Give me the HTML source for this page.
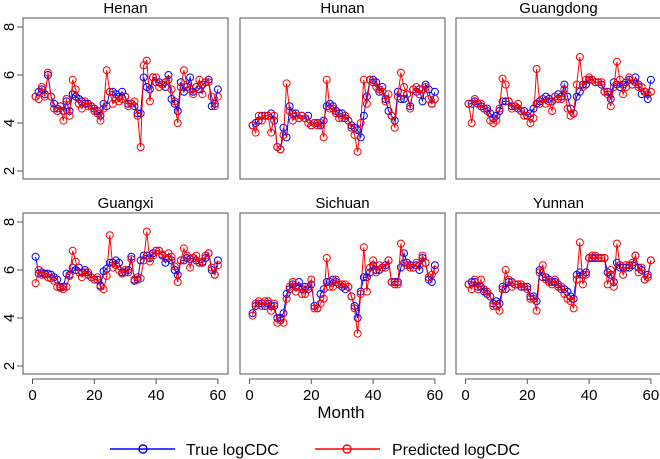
<!DOCTYPE html>
<html><head><meta charset="utf-8"><style>
body{margin:0;background:#fff;}
svg{display:block;font-family:"Liberation Sans",Arial,sans-serif;}
</style></head><body>
<svg id="chart" width="660" height="459" viewBox="0 0 660 459">
<g id="panels"></g>
<text x="341" y="418" font-size="17" text-anchor="middle">Month</text>
<g>
<g>
<line x1="110" y1="449" x2="175" y2="449" stroke="#0000ff" stroke-width="1.6"/>
<circle cx="143" cy="449" r="4" fill="none" stroke="#0000ff" stroke-width="1.4"/>
<text x="186" y="455" font-size="16">True logCDC</text></g>
<g>
<line x1="315" y1="449" x2="380" y2="449" stroke="#ff0000" stroke-width="1.6"/>
<circle cx="347" cy="449" r="4" fill="none" stroke="#ff0000" stroke-width="1.4"/>
<text x="392" y="455" font-size="16">Predicted logCDC</text></g>
</g>
</svg>
<script>
const provinces=["Henan","Hunan","Guangdong","Guangxi","Sichuan","Yunnan"];
const xTicks=[0,20,40,60];
const yTicks=[2,4,6,8];
const trueHenan=[5.1,5.3,5.4,5.2,6.0,5.1,4.8,4.6,4.7,4.5,4.9,4.5,5.2,5.1,5.0,4.9,4.8,4.8,4.7,4.6,4.5,4.3,4.8,4.7,5.3,5.3,5.2,5.1,5.3,5.1,4.8,4.8,4.7,4.4,4.4,5.9,5.5,5.4,5.9,5.7,5.7,5.6,5.5,6.0,5.0,4.8,4.5,5.7,5.3,5.5,5.9,5.3,5.5,5.4,5.6,5.7,5.8,4.7,4.8,5.4];
const predHenan=[5.1,5.0,5.5,5.1,6.1,5.1,4.6,4.5,4.7,4.1,5.0,4.3,5.8,5.4,4.8,4.6,4.9,4.7,4.7,4.5,4.4,4.1,4.6,6.2,5.3,4.8,5.0,4.9,5.0,5.1,4.7,4.8,4.9,4.3,3.0,6.4,6.6,4.9,5.9,5.9,5.5,5.6,5.7,5.8,5.4,4.9,4.0,5.5,6.2,5.6,5.4,5.2,5.5,5.8,5.2,5.7,5.7,5.1,4.7,5.1];
const trueHunan=[3.9,4.0,4.1,4.3,4.3,4.3,4.4,4.1,3.0,2.9,3.8,3.4,4.7,4.4,4.4,4.2,4.3,4.2,4.3,3.9,4.0,4.0,3.9,4.1,4.7,4.8,4.7,4.5,4.4,4.4,4.2,4.1,3.9,3.8,3.7,3.4,4.3,5.1,5.8,5.8,5.7,5.3,5.5,5.0,4.5,4.3,4.1,5.3,5.0,5.0,5.2,4.7,5.4,5.3,5.4,4.9,5.6,5.4,4.8,5.3];
const predHunan=[3.9,3.6,4.3,4.1,4.3,4.3,3.6,4.3,3.0,2.9,3.5,5.65,4.5,4.1,4.3,4.2,4.3,4.2,4.0,3.9,4.0,3.9,4.0,3.4,5.8,4.6,4.6,4.4,4.2,4.2,4.3,4.1,3.8,3.5,2.8,4.0,5.8,4.8,5.8,5.7,5.5,5.4,5.3,4.9,5.2,4.3,3.8,5.1,6.1,5.5,5.2,4.6,5.4,5.5,5.2,5.4,5.5,5.0,4.8,5.0];
const trueGuangdong=[4.8,4.8,4.9,4.8,4.7,4.6,4.6,4.4,4.2,4.3,4.5,4.9,4.9,4.9,4.7,4.7,4.6,4.5,4.5,4.3,4.4,4.6,4.8,4.9,5.0,5.1,5.0,4.9,5.1,5.2,5.1,5.6,5.1,4.6,4.4,5.1,5.3,5.6,5.6,5.8,5.8,5.7,5.7,5.6,5.3,5.3,5.0,5.7,5.6,5.5,5.6,5.7,5.8,5.6,5.9,5.6,5.2,5.3,5.0,5.8];
const predGuangdong=[4.8,4.0,5.0,4.8,4.8,4.6,4.5,4.1,4.0,4.1,4.6,5.85,5.6,4.9,4.6,4.7,4.8,4.5,4.3,4.3,4.0,4.2,6.25,4.8,5.0,4.8,4.9,4.5,5.1,5.0,5.0,5.4,4.6,4.3,4.4,5.6,6.75,5.5,5.8,5.9,5.8,5.7,5.7,5.7,5.3,5.2,4.7,5.5,6.55,5.8,5.2,5.5,5.9,5.6,5.7,5.5,5.5,5.3,5.2,5.3];
const trueGuangxi=[6.55,5.85,5.9,5.85,5.85,5.8,5.7,5.6,5.3,5.3,5.85,5.8,6.1,6.0,6.1,5.9,6.0,5.8,5.7,5.6,5.6,5.35,5.95,6.05,6.3,6.3,6.4,6.3,5.9,5.9,6.0,6.55,5.55,5.6,6.4,6.6,6.6,6.5,6.7,6.8,6.8,6.6,6.3,6.5,6.4,6.0,5.8,6.4,6.4,6.5,6.45,6.5,6.4,6.3,6.3,6.5,6.7,6.0,5.8,6.4];
const predGuangxi=[5.45,6.0,5.8,5.8,5.7,5.65,5.55,5.3,5.25,5.2,5.3,5.75,6.8,6.35,5.9,5.7,5.9,5.9,5.7,5.6,5.7,5.3,5.2,5.75,7.45,6.1,6.2,6.0,5.85,6.0,5.9,6.45,5.6,5.7,5.65,6.4,7.6,6.35,6.6,6.8,6.8,6.65,6.5,6.7,6.55,6.15,5.5,6.4,6.9,6.6,6.1,6.5,6.6,6.3,6.35,6.6,6.7,6.1,5.8,6.2];
const trueSichuan=[4.2,4.5,4.6,4.6,4.5,4.6,4.5,4.5,4.0,4.0,4.2,5.0,5.2,5.4,5.3,5.5,5.2,5.3,5.2,5.4,4.5,4.4,5.0,5.2,5.5,5.5,5.6,5.5,5.4,5.3,5.2,5.3,4.9,4.5,4.0,5.1,5.7,5.7,5.9,6.2,6.0,6.0,6.1,6.2,6.4,5.5,5.5,5.5,6.1,6.7,6.3,6.2,6.1,6.2,6.0,6.5,6.3,5.6,5.5,6.2];
const predSichuan=[4.1,4.6,4.7,4.5,4.7,4.7,4.3,4.6,3.8,3.9,3.8,4.8,5.3,5.5,5.1,5.3,5.0,5.0,5.3,5.6,4.4,4.4,4.6,4.8,6.5,5.3,5.3,5.6,5.4,5.4,5.4,5.3,4.9,4.4,3.35,5.0,6.95,5.1,6.1,6.4,5.9,6.2,6.1,6.1,6.4,5.5,5.4,5.4,7.1,6.3,6.2,6.1,6.1,6.3,6.2,6.6,6.3,5.7,5.8,6.0];
const trueYunnan=[5.4,5.5,5.5,5.3,5.3,5.1,5.0,4.9,4.6,4.7,4.6,5.3,5.2,5.5,5.5,5.4,5.4,5.3,5.3,5.3,4.9,4.9,4.7,6.0,5.7,5.7,5.6,5.5,5.5,5.4,5.2,5.2,5.1,4.9,4.8,5.8,5.9,5.8,5.9,6.5,6.5,6.5,6.5,6.5,6.5,5.9,5.8,5.5,6.3,6.1,6.1,6.1,6.1,6.2,6.6,6.1,6.0,5.6,5.8,6.4];
const predYunnan=[5.4,5.2,5.6,5.2,5.6,5.2,5.1,4.9,4.5,4.5,4.3,5.2,6.0,5.6,5.3,5.4,5.4,5.4,5.3,5.2,4.8,4.8,4.3,5.9,6.2,5.6,5.5,5.4,5.6,5.3,5.3,5.0,4.8,4.7,4.4,5.6,7.15,5.4,5.8,6.5,6.6,6.6,6.5,6.5,6.5,5.4,6.0,5.3,7.1,6.2,5.8,6.2,6.2,6.3,6.6,5.9,6.1,5.6,5.7,6.4];
const trueSeries=[trueHenan,trueHunan,trueGuangdong,trueGuangxi,trueSichuan,trueYunnan];
const predSeries=[predHenan,predHunan,predGuangdong,predGuangxi,predSichuan,predYunnan];

const NS="http://www.w3.org/2000/svg";
const root=document.getElementById("panels");
function mk(tag,attrs,parent){const e=document.createElementNS(NS,tag);for(const k in attrs)e.setAttribute(k,attrs[k]);parent.appendChild(e);return e;}
const lefts=[23,240,456],tops=[18,213],W=205,H=161;
provinces.forEach((name,i)=>{
  const col=i%3,row=Math.floor(i/3);
  const L=lefts[col],T=tops[row];
  const xs=m=>L+9.5+m*3.09;
  const ys=v=>T+153-(v-2)*24;
  const g=mk("g",{},root);
  
  
  const t=mk("text",{x:L+W/2,y:T-5,"font-size":"15","text-anchor":"middle"},g);
  t.textContent=name;
  
  
  const box=mk("rect",{x:L,y:T,width:W,height:H,fill:"none",stroke:"#555","stroke-width":"1"},g);
  
  
  if(col===0){
    yTicks.forEach(v=>{
      const y=ys(v);
      const tk=mk("line",{x1:L-6,x2:L,y1:y,y2:y,stroke:"#555"},g);
      
      
      const lb=mk("text",{x:L-9,y:y,"font-size":"15","text-anchor":"middle",transform:`rotate(-90 ${L-9} ${y})`},g);
      lb.textContent=v;
      
      
    });
  }
  if(row===1){
    mk("line",{x1:xs(0),x2:xs(60),y1:T+H+5,y2:T+H+5,stroke:"#555"},g);
    xTicks.forEach(m=>{
      const x=xs(m);
      const tk=mk("line",{x1:x,x2:x,y1:T+H+5,y2:T+H+10,stroke:"#555"},g);
      
      
      const lb=mk("text",{x:x,y:T+H+26,"font-size":"15","text-anchor":"middle"},g);
      lb.textContent=m;
      
      
    });
  }
  [[trueSeries[i],"#0000ff","true"],[predSeries[i],"#ff0000","predicted"]].forEach(([data,color,key])=>{
    const sg=mk("g",{},g);
    
    
    const pts=data.map((v,k)=>xs(k+1).toFixed(1)+","+ys(v).toFixed(1)).join(" ");
    const pl=mk("polyline",{points:pts,fill:"none",stroke:color,"stroke-width":"1"},sg);
    
    
    data.forEach((v,k)=>{
      const c=mk("circle",{cx:xs(k+1),cy:ys(v),r:3.5,fill:"none",stroke:color,"stroke-width":"1"},sg);
      
      
    });
  });
});
</script>
</body></html>
